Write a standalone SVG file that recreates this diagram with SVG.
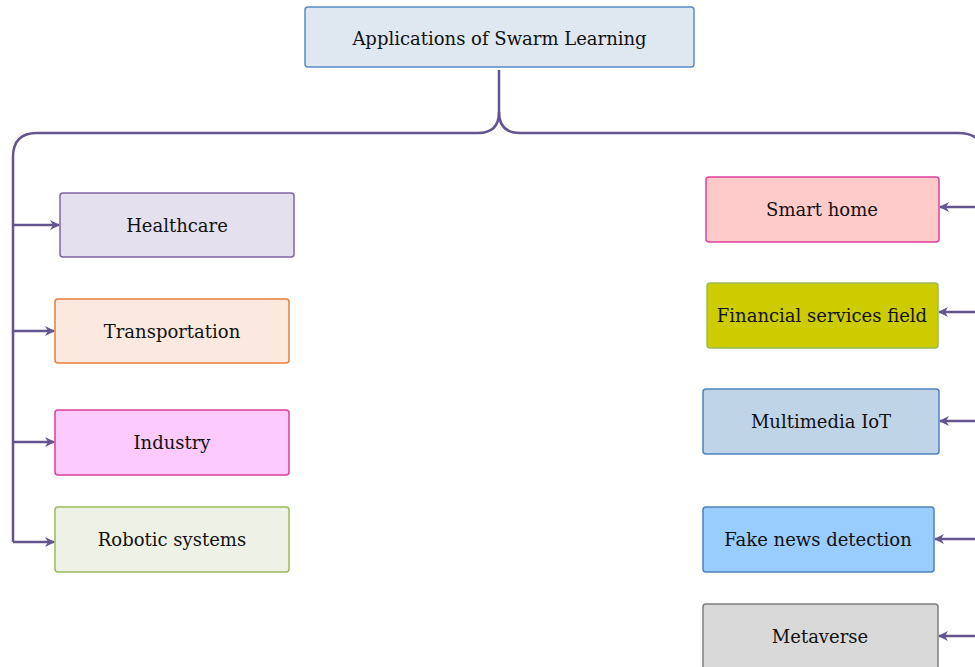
<svg xmlns="http://www.w3.org/2000/svg" width="975" height="667" viewBox="0 0 975 667">
<defs>
<marker id="ah" viewBox="0 0 10 10" refX="9" refY="5" markerWidth="4" markerHeight="4" orient="auto" markerUnits="strokeWidth">
<path d="M0,0 L10,5 L0,10 L3,5 Z" fill="#65558f"/>
</marker>
<style>
.n{stroke-width:1.5}
.t{font-family:"DejaVu Serif","Liberation Serif",serif;font-size:18px;fill:#111;text-anchor:middle;dominant-baseline:central}
.c{fill:none;stroke:#65558f;stroke-width:2.5}
.a{fill:none;stroke:#65558f;stroke-width:2.5;marker-end:url(#ah)}
</style>
</defs>
<rect width="975" height="667" fill="#fff"/>
<g id="connectors">
<path class="c" d="M499,70 V112 Q499,133 478,133 H37 Q13,133 13,157 V542"/>
<path class="c" d="M499,112 Q499,133 520,133 H958 Q985,133 985,160 V636"/>
<path class="a" d="M13,225 H59"/>
<path class="a" d="M13,331 H54"/>
<path class="a" d="M13,442 H54"/>
<path class="a" d="M13,542 H54"/>
<path class="a" d="M985,207 H940"/>
<path class="a" d="M985,312 H939"/>
<path class="a" d="M985,421 H940"/>
<path class="a" d="M985,539 H935"/>
<path class="a" d="M985,636 H939"/>
</g>
<g id="root"><rect class="n" x="305" y="7" width="389" height="60" rx="3" fill="#dfe8f1" stroke="#5a8ac6"/><text class="t" x="499.5" y="38">Applications of Swarm Learning</text></g>
<g id="healthcare"><rect class="n" x="60" y="193" width="234" height="64" rx="3" fill="#e5e0ed" stroke="#8064a2"/><text class="t" x="177" y="225">Healthcare</text></g>
<g id="transportation"><rect class="n" x="55" y="299" width="234" height="64" rx="3" fill="#fbe9df" stroke="#e6803a"/><text class="t" x="172" y="331">Transportation</text></g>
<g id="industry"><rect class="n" x="55" y="410" width="234" height="65" rx="3" fill="#fccafd" stroke="#d93f9f"/><text class="t" x="172" y="442">Industry</text></g>
<g id="robotic"><rect class="n" x="55" y="507" width="234" height="65" rx="3" fill="#eef1e6" stroke="#9bbb59"/><text class="t" x="172" y="539">Robotic systems</text></g>
<g id="smarthome"><rect class="n" x="706" y="177" width="233" height="65" rx="3" fill="#fecaca" stroke="#e0409f"/><text class="t" x="822" y="209">Smart home</text></g>
<g id="financial"><rect class="n" x="707" y="283" width="231" height="65" rx="3" fill="#cccc00" stroke="#9bbb59"/><text class="t" x="822" y="315">Financial services field</text></g>
<g id="multimedia"><rect class="n" x="703" y="389" width="236" height="65" rx="3" fill="#c0d4e8" stroke="#4f81bd"/><text class="t" x="821" y="421">Multimedia IoT</text></g>
<g id="fakenews"><rect class="n" x="703" y="507" width="231" height="65" rx="3" fill="#99ccff" stroke="#4f81bd"/><text class="t" x="818" y="539">Fake news detection</text></g>
<g id="metaverse"><rect class="n" x="703" y="604" width="235" height="70" rx="3" fill="#d9d9d9" stroke="#7f7f7f"/><text class="t" x="820" y="636">Metaverse</text></g>
</svg>
